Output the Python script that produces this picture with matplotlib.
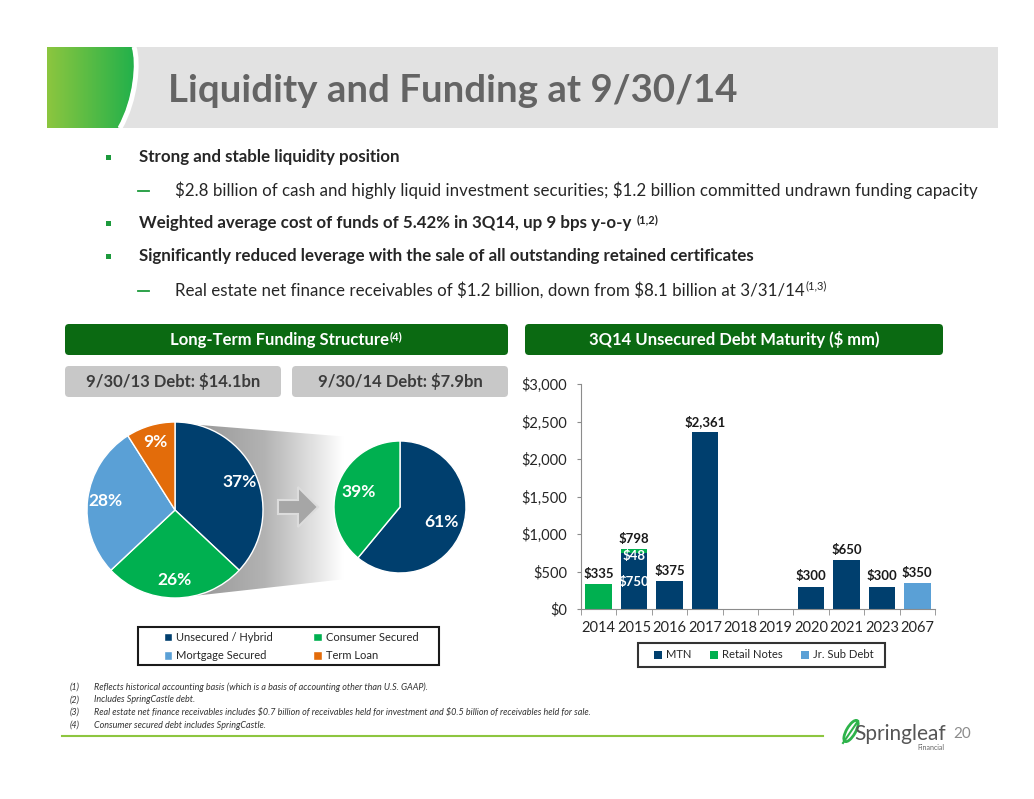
import numpy as np
import matplotlib.pyplot as plt
from matplotlib.patches import Rectangle, FancyBboxPatch, Polygon, PathPatch, Ellipse
from matplotlib.path import Path
from matplotlib.colors import LinearSegmentedColormap
from matplotlib.ticker import FuncFormatter

plt.rcParams['font.family'] = ['Lato', 'DejaVu Sans']
plt.rcParams['text.parse_math'] = False

# pie data (percent of long-term debt)
pie_labels = ['Unsecured / Hybrid', 'Consumer Secured', 'Mortgage Secured', 'Term Loan']
pie_colors = ['#003f6e', '#00b050', '#5aa0d6', '#e36c0a']
debt_2013 = [37, 26, 28, 9]
debt_2014 = [61, 39]

# bar data ($ mm)
years = ['2014', '2015', '2016', '2017', '2018', '2019', '2020', '2021', '2023', '2067']
mtn = [0, 750, 375, 2361, 0, 0, 300, 650, 300, 0]
retail = [335, 48, 0, 0, 0, 0, 0, 0, 0, 0]
jr_sub = [0, 0, 0, 0, 0, 0, 0, 0, 0, 350]
series_names = ['MTN', 'Retail Notes', 'Jr. Sub Debt']
bar_colors = ['#003f6e', '#00b050', '#5aa0d6']

bullets = [
    (0, 'Strong and stable liquidity position', ''),
    (1, '$2.8 billion of cash and highly liquid investment securities; $1.2 billion committed undrawn funding capacity', ''),
    (0, 'Weighted average cost of funds of 5.42% in 3Q14, up 9 bps y-o-y ', '(1,2)'),
    (0, 'Significantly reduced leverage with the sale of all outstanding retained certificates', ''),
    (1, 'Real estate net finance receivables of $1.2 billion, down from $8.1 billion at 3/31/14', '(1,3)'),
]
footnotes = [
    'Reflects historical accounting basis (which is a basis of accounting other than U.S. GAAP).',
    'Includes SpringCastle debt.',
    'Real estate net finance receivables includes $0.7 billion of receivables held for investment and $0.5 billion of receivables held for sale.',
    'Consumer secured debt includes SpringCastle.',
]

W, H = 1034, 799
fig = plt.figure(figsize=(W / 100, H / 100), dpi=100)
rend = fig.canvas.get_renderer()
bg = fig.add_axes([0, 0, 1, 1])
bg.set_xlim(0, W)
bg.set_ylim(H, 0)
bg.axis('off')


def fbox(x, y, w, h):
    return [x / W, 1 - (y + h) / H, w / W, h / H]


def sup_after(t, s, size, color, weight='normal', dy=0):
    bb = t.get_window_extent(renderer=rend)
    bg.text(bb.x1 + 1, H - bb.y1 + dy, s, fontsize=size, color=color,
            fontweight=weight, va='top', ha='left', zorder=6)


# title banner
bg.add_patch(Rectangle((47, 47), 951, 81, color='#e2e2e2', lw=0))
verts = [(47, 47), (132, 47), (137, 62), (134, 100), (118, 128), (47, 128), (47, 47)]
codes = [Path.MOVETO, Path.LINETO, Path.CURVE4, Path.CURVE4, Path.CURVE4, Path.LINETO, Path.CLOSEPOLY]
clip = PathPatch(Path(verts, codes), facecolor='none', edgecolor='none')
bg.add_patch(clip)
g_cmap = LinearSegmentedColormap.from_list('g', ['#8cc63f', '#1fb04b'])
im = bg.imshow(np.linspace(0, 1, 200)[None, :], cmap=g_cmap, extent=(47, 137, 128, 47),
               aspect='auto', zorder=2)
im.set_clip_path(clip)
arc = Path([(134, 47), (139, 62), (136, 100), (120, 128)],
           [Path.MOVETO, Path.CURVE4, Path.CURVE4, Path.CURVE4])
bg.add_patch(PathPatch(arc, facecolor='none', edgecolor='white', lw=3.5, zorder=3))
bg.text(168, 91, 'Liquidity and Funding at 9/30/14', fontsize=27.6, fontweight='bold',
        color='#646464', va='center', zorder=4)

# bullets
rows = [157, 190, 223, 256, 290]
for (lvl, txt, sup), y in zip(bullets, rows):
    if lvl == 0:
        bg.add_patch(Rectangle((106, y - 2.5), 5, 5, color='#1c9a3c', lw=0))
        t = bg.text(139, y, txt, fontsize=12.2, fontweight='bold', color='#262626', va='center')
        if sup:
            sup_after(t, sup, 8, '#262626', 'bold', dy=-1)
    else:
        bg.plot([138, 149], [y + 1, y + 1], color='#1c9a3c', lw=1.3)
        t = bg.text(175, y, txt, fontsize=12.2, color='#262626', va='center')
        if sup:
            sup_after(t, sup, 8, '#262626', dy=-1)

# section headers
for x0, w in [(65, 443), (525, 418)]:
    bg.add_patch(FancyBboxPatch((x0, 324), w, 31, boxstyle='round,pad=0,rounding_size=4',
                                color='#0b6a12', lw=0))
t = bg.text(279, 340, 'Long-Term Funding Structure', fontsize=12, fontweight='bold',
            color='white', ha='center', va='center')
sup_after(t, '(4)', 8, 'white', 'bold', dy=-1)
bg.text(734, 340, '3Q14 Unsecured Debt Maturity ($ mm)', fontsize=12, fontweight='bold',
        color='white', ha='center', va='center')

for x0, w, s in [(65, 216, '9/30/13 Debt: $14.1bn'), (292, 216, '9/30/14 Debt: $7.9bn')]:
    bg.add_patch(FancyBboxPatch((x0, 366), w, 31, boxstyle='round,pad=0,rounding_size=4',
                                color='#c8c8c8', lw=0))
    bg.text(x0 + w / 2, 382, s, fontsize=12, fontweight='bold', color='#3c3c3c',
            ha='center', va='center')

# zoom band between the pies
trap = Polygon([(175, 423), (400, 441), (400, 573), (175, 598)], closed=True,
               facecolor='none', edgecolor='none')
bg.add_patch(trap)
s_cmap = LinearSegmentedColormap.from_list(
    's', [(0, '#8f8f8f'), (0.4, '#b3b3b3'), (0.75, '#ffffff'), (1, '#ffffff')])
im2 = bg.imshow(np.linspace(0, 1, 256)[None, :], cmap=s_cmap, extent=(175, 400, 598, 423),
                aspect='auto', zorder=1)
im2.set_clip_path(trap)

# arrow
bg.add_patch(Polygon([(278, 500), (298, 500), (298, 487), (318, 507), (298, 527), (298, 514),
                      (278, 514)], closed=True, facecolor='#a6a6a6', edgecolor='#dcdcdc',
                     lw=1.5, zorder=3))

# pies
ax1 = fig.add_axes(fbox(175 - 88, 510 - 88, 176, 176))
wedges, _, autotexts = ax1.pie(
    debt_2013, colors=pie_colors, startangle=90, counterclock=False,
    autopct=lambda p: f'{p:.0f}%', pctdistance=0.8,
    wedgeprops=dict(edgecolor='white', linewidth=1),
    textprops=dict(color='white', fontsize=12.5, fontweight='bold'))
ax1.set_xlim(-1, 1)
ax1.set_ylim(-1, 1)

ax2 = fig.add_axes(fbox(400 - 66, 507 - 66, 132, 132))
ax2.pie(debt_2014, colors=pie_colors[:2], startangle=90, counterclock=False,
        autopct=lambda p: f'{p:.0f}%', pctdistance=0.66,
        wedgeprops=dict(edgecolor='white', linewidth=1),
        textprops=dict(color='white', fontsize=12.5, fontweight='bold'))
ax2.set_xlim(-1, 1)
ax2.set_ylim(-1, 1)

order = [0, 2, 1, 3]
bg.add_patch(Rectangle((138, 627), 301, 38, facecolor='white', edgecolor='#1a1a1a', lw=1.5,
                       zorder=4))
leg1 = fig.legend([wedges[i] for i in order], [pie_labels[i] for i in order], ncol=2,
                  loc='center', bbox_to_anchor=(291 / W, 1 - 646.5 / H), frameon=False,
                  fontsize=8, handlelength=0.8, handleheight=0.8, handletextpad=0.35,
                  columnspacing=3.6, labelspacing=0.65, borderaxespad=0, borderpad=0,
                  labelcolor='#262626')

# bar chart
ax3 = fig.add_axes(fbox(581, 384, 354, 225))
x = np.arange(len(years))
base = np.array(mtn) + np.array(retail)
b1 = ax3.bar(x, mtn, 0.75, color=bar_colors[0], label=series_names[0])
b2 = ax3.bar(x, retail, 0.75, bottom=mtn, color=bar_colors[1], label=series_names[1])
b3 = ax3.bar(x, jr_sub, 0.75, bottom=base, color=bar_colors[2], label=series_names[2])
totals = base + np.array(jr_sub)
for xi, tot in zip(x, totals):
    if tot > 0:
        ax3.annotate(f'${tot:,.0f}', (xi, tot), xytext=(0, 3), textcoords='offset points',
                     ha='center', va='bottom', fontsize=9.5, fontweight='bold', color='#1a1a1a')
for xi, m, r in zip(x, mtn, retail):
    if m > 0 and r > 0:
        ax3.text(xi, m + r - 95, f'${r}', ha='center', va='center', fontsize=9.5,
                 fontweight='bold', color='white')
        ax3.text(xi, m * 0.48, f'${m}', ha='center', va='center', fontsize=9.5,
                 fontweight='bold', color='white')
ax3.set_xlim(-0.5, len(years) - 0.5)
ax3.set_ylim(0, 3000)
ax3.set_yticks(np.arange(0, 3001, 500))
ax3.yaxis.set_major_formatter(FuncFormatter(lambda v, p: f'${v:,.0f}'))
ax3.set_xticks(x, years)
ax3.set_xticks(np.arange(-0.5, len(years), 1), minor=True)
for s in ['top', 'right']:
    ax3.spines[s].set_visible(False)
for s in ['left', 'bottom']:
    ax3.spines[s].set_color('#8c8c8c')
ax3.tick_params(axis='y', length=3, pad=7, color='#8c8c8c', labelsize=10.5, labelcolor='#262626')
ax3.tick_params(axis='x', which='major', length=0, pad=9, labelsize=10.5, labelcolor='#262626')
ax3.tick_params(axis='x', which='minor', length=4, color='#8c8c8c')
ax3.set_facecolor('none')

bg.add_patch(Rectangle((638, 643), 247, 24, facecolor='white', edgecolor='#333333', lw=1.5,
                       zorder=4))
leg2 = fig.legend([b1, b2, b3], series_names, ncol=3, loc='center',
                  bbox_to_anchor=(764 / W, 1 - 655 / H), frameon=False,
                  fontsize=8.1, handlelength=0.7, handleheight=0.7, handletextpad=0.4,
                  columnspacing=1.6, borderpad=0, borderaxespad=0, labelcolor='#262626')

# footnotes
for i, (fy, note) in enumerate(zip([687, 700, 712, 725], footnotes)):
    bg.text(70, fy, f'({i + 1})', fontsize=6.5, style='italic', color='#333333', va='center')
    bg.text(94, fy, note, fontsize=6.5, style='italic', color='#333333', va='center')

bg.plot([62, 823], [736, 736], color='#8dc63f', lw=1.5)

# logo
bg.add_patch(Ellipse((851, 731), 24, 9, angle=-60, facecolor='none', edgecolor='#2db34a', lw=2))
bg.plot([843, 858], [743, 721], color='#2db34a', lw=1.5)
bg.text(854, 740, 'Springleaf', fontsize=15, color='#555555', va='baseline')
bg.text(917, 747, 'Financial', fontsize=5, color='#666666', va='center')
bg.text(953, 734, '20', fontsize=11, color='#8c8c8c', va='center')

bg.set_xlim(0, W)
bg.set_ylim(H, 0)
fig.savefig('out.png', dpi=100)
